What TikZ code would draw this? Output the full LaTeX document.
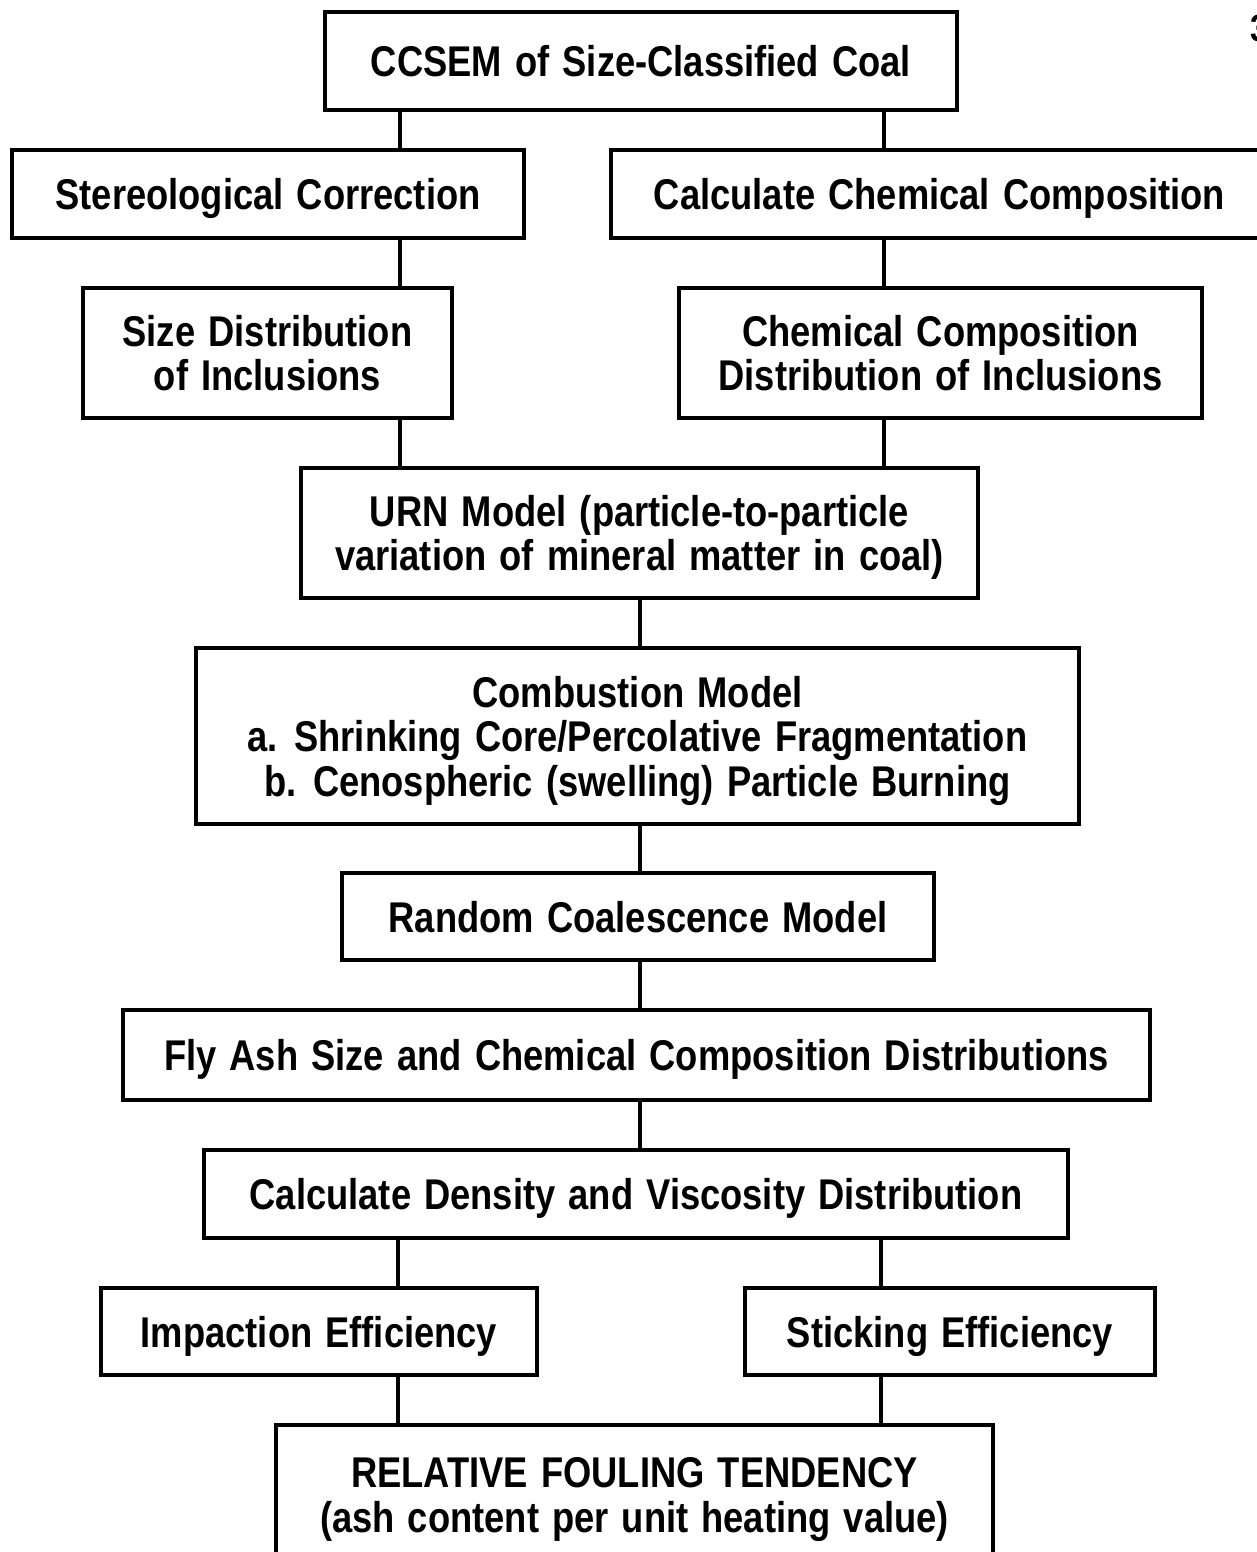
\documentclass[tikz,border=0pt]{standalone}
\usepackage{fontspec}
\newfontfamily\boxfont{Liberation Sans}[FakeStretch=0.845,WordSpace=1.3]
\begin{document}
\begin{tikzpicture}[x=1pt,y=-1pt,
  flowbox/.style={draw=black,line width=3.4pt,rectangle,inner sep=0pt,align=center,
    text depth=-3pt,font=\boxfont\bfseries\fontsize{43}{44.5}\selectfont},
  link/.style={line width=4.8pt}]
\useasboundingbox (0,0) rectangle (1257,1552);
\fill[white] (0,0) rectangle (1257,1552);
% boxes
\node[flowbox,minimum width=632,minimum height=98] (ccsem) at (641,61) {CCSEM of Size-Classified Coal};
\node[flowbox,minimum width=512,minimum height=88] (stereo) at (268,194) {Stereological Correction};
\node[flowbox,minimum width=657,minimum height=88] (calc) at (939.5,194) {Calculate Chemical Composition};
\node[flowbox,minimum width=369,minimum height=130] (size) at (267.5,353) {Size Distribution\\of Inclusions};
\node[flowbox,minimum width=523,minimum height=130] (chem) at (940.5,353) {Chemical Composition\\Distribution of Inclusions};
\node[flowbox,minimum width=677,minimum height=130] (urn) at (639.5,533) {URN Model (particle-to-particle\\variation of mineral matter in coal)};
\node[flowbox,minimum width=883,minimum height=176] (comb) at (637.5,736) {Combustion Model\\a. Shrinking Core/Percolative Fragmentation\\b. Cenospheric (swelling) Particle Burning};
\node[flowbox,minimum width=592,minimum height=87] (random) at (638,916.5) {Random Coalescence Model};
\node[flowbox,minimum width=1027,minimum height=90] (fly) at (636.5,1055) {Fly Ash Size and Chemical Composition Distributions};
\node[flowbox,minimum width=864,minimum height=88] (dens) at (636,1194) {Calculate Density and Viscosity Distribution};
\node[flowbox,minimum width=436,minimum height=87] (imp) at (319,1331.5) {Impaction Efficiency};
\node[flowbox,minimum width=410,minimum height=87] (stick) at (950,1331.5) {Sticking Efficiency};
\node[flowbox,minimum width=717,minimum height=140] (foul) at (634.5,1495) {RELATIVE FOULING TENDENCY\\(ash content per unit heating value)};
% page number, cut at the edge
\node[anchor=west,inner sep=0pt,font=\boxfont\bfseries\fontsize{38}{40}\selectfont] (pagenum) at (1250,28) {3};
% connector columns
\coordinate (cl) at (400,0);
\coordinate (cr) at (884,0);
\coordinate (cm) at (640,0);
\coordinate (dl) at (398,0);
\coordinate (dr) at (881,0);
\draw[link] (ccsem.south -| cl) -- (stereo.north -| cl);
\draw[link] (ccsem.south -| cr) -- (calc.north -| cr);
\draw[link] (stereo.south -| cl) -- (size.north -| cl);
\draw[link] (calc.south -| cr) -- (chem.north -| cr);
\draw[link] (size.south -| cl) -- (urn.north -| cl);
\draw[link] (chem.south -| cr) -- (urn.north -| cr);
\draw[link] (urn.south -| cm) -- (comb.north -| cm);
\draw[link] (comb.south -| cm) -- (random.north -| cm);
\draw[link] (random.south -| cm) -- (fly.north -| cm);
\draw[link] (fly.south -| cm) -- (dens.north -| cm);
\draw[link] (dens.south -| dl) -- (imp.north -| dl);
\draw[link] (dens.south -| dr) -- (stick.north -| dr);
\draw[link] (imp.south -| dl) -- (foul.north -| dl);
\draw[link] (stick.south -| dr) -- (foul.north -| dr);
\end{tikzpicture}
\end{document}
